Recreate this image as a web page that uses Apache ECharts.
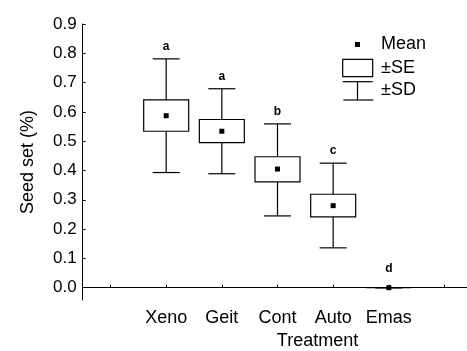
<!DOCTYPE html>
<html>
<head>
<meta charset="utf-8">
<script src="https://cdn.jsdelivr.net/npm/echarts@6/dist/echarts.min.js"></script>
<style>
  html, body { margin: 0; padding: 0; background: #fff; }
  #chart { width: 467px; height: 351px; }
</style>
</head>
<body>
<div id="chart"></div>
<script>
// treatments, with an empty slot on each side like the original axis
const categories = ['', 'Xeno', 'Geit', 'Cont', 'Auto', 'Emas', '']
const groups = ['Xeno', 'Geit', 'Cont', 'Auto', 'Emas']
const means = [0.587, 0.534, 0.405, 0.280, 0.0]
const seLow = [0.534, 0.495, 0.361, 0.242, 0.0]
const seHigh = [0.641, 0.574, 0.447, 0.319, 0.0]
const sdLow = [0.393, 0.389, 0.245, 0.136, 0.0]
const sdHigh = [0.781, 0.679, 0.559, 0.425, 0.0]
const letters = ['a', 'a', 'b', 'c', 'd']

const font = 'Liberation Sans, Arial, sans-serif'

let rows = groups.map((g, i) => [g, means[i], seLow[i], seHigh[i], sdLow[i], sdHigh[i], letters[i]])

function renderItem (params, api) {
  const cat = api.value(0)
  const x = api.coord([cat, 0])[0]
  const yMean = api.coord([cat, api.value(1)])[1]
  const ySeLo = api.coord([cat, api.value(2)])[1]
  const ySeHi = api.coord([cat, api.value(3)])[1]
  const ySdLo = api.coord([cat, api.value(4)])[1]
  const ySdHi = api.coord([cat, api.value(5)])[1]
  const bw = 45, cw = 27
  const st = { stroke: '#000', lineWidth: 1.2, fill: null }
  const children = [
    { type: 'line', shape: { x1: x, y1: ySdHi, x2: x, y2: ySeHi }, style: st },
    { type: 'line', shape: { x1: x, y1: ySeLo, x2: x, y2: ySdLo }, style: st },
    { type: 'line', shape: { x1: x - cw / 2, y1: ySdHi, x2: x + cw / 2, y2: ySdHi }, style: st },
    { type: 'line', shape: { x1: x - cw / 2, y1: ySdLo, x2: x + cw / 2, y2: ySdLo }, style: st },
    { type: 'rect', shape: { x: x - bw / 2, y: ySeHi, width: bw, height: ySeLo - ySeHi }, style: { stroke: '#000', lineWidth: 1.2, fill: '#fff' } },
    { type: 'rect', shape: { x: x - 2.5, y: yMean - 2.5, width: 5, height: 5 }, style: { fill: '#000' } },
    { type: 'text', x: x, y: (ySdHi === ySdLo ? ySdHi - 19 : ySdHi - 12), style: { text: api.value(6), font: 'bold 12px ' + font, fill: '#000', align: 'center', verticalAlign: 'middle' } }
  ]
  return { type: 'group', children: children }
}

const legendText = { font: '18px ' + font, fill: '#000', verticalAlign: 'middle' }

const option = {
  animation: false,
  backgroundColor: '#fff',
  grid: { left: 82.7, top: 24, right: -5.3, bottom: 51, containLabel: false, outerBoundsMode: 'none' },
  xAxis: {
    type: 'category',
    data: categories,
    boundaryGap: true,
    name: 'Treatment',
    nameLocation: 'middle',
    nameGap: 31,
    nameTextStyle: { fontFamily: font, fontSize: 18, color: '#000', padding: [0, 0, 0, 80] },
    axisLine: { lineStyle: { color: '#000', width: 1 } },
    axisTick: { show: true, inside: true, length: 3, alignWithLabel: true, lineStyle: { color: '#000' } },
    axisLabel: { fontFamily: font, fontSize: 18, color: '#000', margin: 9, interval: 0 },
    splitLine: { show: false }
  },
  yAxis: {
    type: 'value',
    min: -0.042,
    max: 0.9,
    splitNumber: 9,
    minInterval: 0.1,
    maxInterval: 0.1,
    name: 'Seed set (%)',
    nameLocation: 'middle',
    nameGap: 46,
    nameTextStyle: { fontFamily: font, fontSize: 18, color: '#000' },
    axisLine: { show: true, lineStyle: { color: '#000', width: 1 } },
    axisTick: { show: true, inside: true, length: 3, lineStyle: { color: '#000' } },
    axisLabel: {
      fontFamily: font, fontSize: 17, color: '#000', margin: 6, showMinLabel: false,
      formatter: v => (v < -0.001 ? '' : v.toFixed(1))
    },
    splitLine: { show: false }
  },
  series: [{
    type: 'custom',
    renderItem: renderItem,
    encode: { x: 0, y: [1, 2, 3, 4, 5] },
    data: rows
  }],
  graphic: [
    { type: 'rect', left: 355, top: 42, shape: { width: 5, height: 5 }, style: { fill: '#000' } },
    { type: 'text', x: 381, y: 44.5, style: Object.assign({ text: 'Mean' }, legendText) },
    { type: 'rect', shape: { x: 342.7, y: 59.3, width: 30, height: 17.4 }, style: { stroke: '#000', lineWidth: 1.2, fill: '#fff' } },
    { type: 'text', x: 381, y: 68, style: Object.assign({ text: '±SE' }, legendText) },
    { type: 'line', shape: { x1: 342.7, y1: 81.7, x2: 372.7, y2: 81.7 }, style: { stroke: '#000', lineWidth: 1.2 } },
    { type: 'line', shape: { x1: 357.5, y1: 81.7, x2: 357.5, y2: 100 }, style: { stroke: '#000', lineWidth: 1.2 } },
    { type: 'line', shape: { x1: 343.3, y1: 100, x2: 373.3, y2: 100 }, style: { stroke: '#000', lineWidth: 1.2 } },
    { type: 'text', x: 381, y: 90.5, style: Object.assign({ text: '±SD' }, legendText) }
  ]
}

echarts.init(document.getElementById('chart'), null, { renderer: 'canvas' }).setOption(option)
</script>
</body>
</html>
